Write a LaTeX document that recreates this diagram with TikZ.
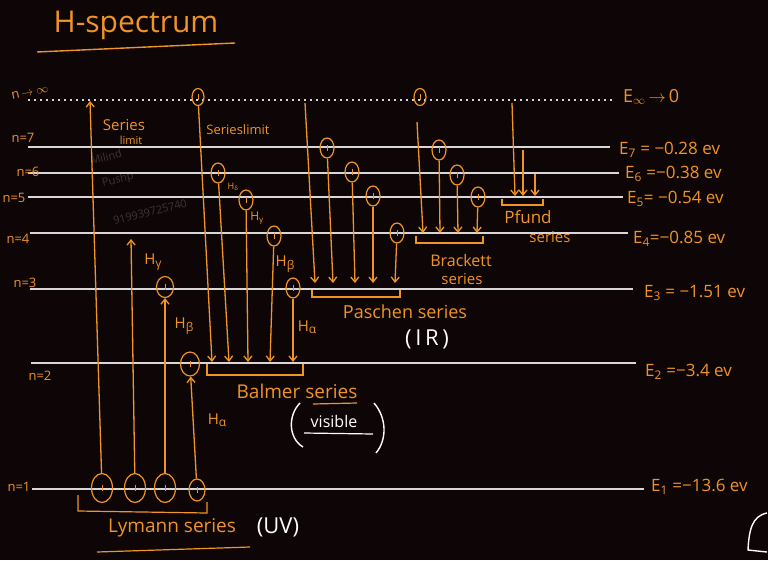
\documentclass[tikz,border=0pt]{standalone}
\usepackage{fontspec}
\setmainfont{Open Sans}
\usetikzlibrary{arrows.meta,shapes.geometric}
\definecolor{bg}{RGB}{14,5,6}
\definecolor{orng}{RGB}{240,148,38}
\definecolor{lvl}{RGB}{215,215,215}
\definecolor{wm}{RGB}{62,54,54}
\newcommand\sbs[1]{\textsubscript{#1}}
\newcommand\fs[1]{\fontsize{#1}{#1}\selectfont}
\newcommand\hl[1]{H\raisebox{-2.5pt}{\fs{12}#1}}
\begin{document}
\begin{tikzpicture}[x=1pt,y=-1pt,
  level/.style={draw=lvl,line width=1.8pt},
  inflevel/.style={draw=lvl,line width=1.6pt,dash pattern=on 2pt off 4pt},
  tr/.style={draw=orng,line width=1.3pt,-{Straight Barb[length=5pt,width=8pt]}},
  el/.style={draw=orng,line width=1.2pt,ellipse,inner sep=0pt,minimum width=14pt,minimum height=20pt,
    path picture={\draw[orng,line width=1pt] ([yshift=-3pt]path picture bounding box.center) -- ([yshift=3pt]path picture bounding box.center);}},
  bigel/.style={el,minimum width=21pt,minimum height=29pt},
  smel/.style={el,minimum width=12pt,minimum height=17pt},
  lab/.style={text=orng,inner sep=0pt,font=\fs{13}},
  hlab/.style={text=orng,inner sep=0pt,font=\fs{15}},
  elab/.style={text=orng,inner sep=0pt,font=\fs{17},anchor=west},
  wlab/.style={text=white,inner sep=0pt},
  brk/.style={draw=orng,line width=1.2pt},
  wmark/.style={text=wm,inner sep=0pt,font=\fs{11}}]
\fill[bg] (0,0) rectangle (768,560);
\useasboundingbox (0,0) rectangle (768,560);

% watermark
\node[wmark,rotate=14] (wm1) at (106,157) {Milind};
\node[wmark,rotate=14] (wm2) at (118,180) {Pushp};
\node[wmark,rotate=14] (wm3) at (150,212) {919939725740};

% title
\node[lab,font=\fs{30}] (title) at (136,25) {H-spectrum};
\draw[brk,line width=1.4pt] (37,52) -- (235,43);

% levels
\coordinate (Lia) at (28,100); \coordinate (Lib) at (613,100);
\coordinate (L7a) at (28,147); \coordinate (L7b) at (610,147);
\coordinate (L6a) at (28,173); \coordinate (L6b) at (619,173);
\coordinate (L5a) at (28,197); \coordinate (L5b) at (623,197);
\coordinate (L4a) at (30,233); \coordinate (L4b) at (628,233);
\coordinate (L3a) at (30,289); \coordinate (L3b) at (633,289);
\coordinate (L2a) at (31,363); \coordinate (L2b) at (636,363);
\coordinate (L1a) at (32,489); \coordinate (L1b) at (644,489);
\draw[inflevel] (Lia) -- (Lib);
\foreach \n in {7,6,5,4,3,2,1} \draw[level] (L\n a) -- (L\n b);

% level names
\node[lab,rotate=12] (ni) at (30,92) {n$\,\to\infty$};
\node[lab] (n7) at (23,138) {n=7};
\node[lab] (n6) at (28,172) {n=6};
\node[lab] (n5) at (14,198) {n=5};
\node[lab] (n4) at (18,239) {n=4};
\node[lab] (n3) at (25,283) {n=3};
\node[lab] (n2) at (40,376) {n=2};
\node[lab] (n1) at (19,487) {n=1};

% energies
\node[elab,font=\fs{18}] (Ei) at (623,97) {E\sbs{$\infty$}$\,\to\,$0};
\node[elab] (E7) at (619,150) {E\sbs{7} = −0.28 ev};
\node[elab] (E6) at (625,174) {E\sbs{6} =−0.38 ev};
\node[elab] (E5) at (627,199) {E\sbs{5}= −0.54 ev};
\node[elab] (E4) at (633,239) {E\sbs{4}=−0.85 ev};
\node[elab] (E3) at (644,293) {E\sbs{3} = −1.51 ev};
\node[elab] (E2) at (645,372) {E\sbs{2} =−3.4 ev};
\node[elab] (E1) at (651,487) {E\sbs{1} =−13.6 ev};

% ---------- Lyman ----------
\node[bigel] (ly1) at (102,488) {};
\node[bigel] (ly2) at (135,488) {};
\node[bigel] (ly3) at (165,488) {};
\node[el,minimum width=16pt,minimum height=22pt] (ly4) at (197,490) {};
\coordinate (lyt1) at (90,101);
\coordinate (lyt2) at (131,239);
\node[el,minimum width=17pt,minimum height=21pt] (lc3) at (165,287) {};
\node[el,minimum width=19pt,minimum height=24pt] (lc2) at (190,364) {};
\draw[tr] (ly1) -- (lyt1);
\draw[tr] (ly2) -- (lyt2);
\draw[tr] (ly3) -- (lc3);
\draw[tr] (ly4) -- (lc2);
\node[lab,font=\fs{15}] (sl1) at (124,125) {Series};
\node[lab,font=\fs{11}] (sl2) at (131,140) {limit};
\node[hlab] (lyg) at (153,262) {\hl{γ}};
\node[hlab] (lyb) at (184,326) {\hl{β}};
\node[hlab] (lya) at (217,420) {\hl{α}};
\draw[brk] (78,495) -- (78,511) -- (207,513) -- (207,502);
\node[lab,font=\fs{19}] (lyn) at (172,528) {Lymann series};
\draw[brk] (97,552) -- (250,547);
\node[wlab,font=\fs{22}] (uv) at (278,527) {(UV)};

% ---------- Balmer ----------
\node[smel] (bi) at (198,97) {};
\node[lab,font=\fs{13}] (bsl) at (238,130) {Serieslimit};
\coordinate (bt1) at (212,362);
\node[el] (b6) at (218,173) {};
\coordinate (bt2) at (229,362);
\node[el] (b5) at (246,200) {};
\coordinate (bt3) at (248,362);
\node[el] (b4) at (274,236) {};
\coordinate (bt4) at (270,362);
\node[el] (b3) at (293,288) {};
\coordinate (bt5) at (293,362);
\draw[tr] (bi) -- (bt1);
\draw[tr] (b6) -- (bt2);
\draw[tr] (b5) -- (bt3);
\draw[tr] (b4) -- (bt4);
\draw[tr] (b3) -- (bt5);
\node[lab,font=\fs{9}] (bd) at (233,187) {H\sbs{δ}};
\node[hlab,font=\fs{12}] (bg) at (257,218) {H\sbs{γ}};
\node[hlab] (bb) at (285,264) {\hl{β}};
\node[hlab] (ba) at (307,327) {\hl{α}};
\draw[brk] (207,364) -- (207,375) -- (303,375) -- (303,364);
\node[lab,font=\fs{19}] (bn) at (297,391) {Balmer series};
\draw[brk] (313,404) -- (357,403);
\node[wlab,font=\fs{16}] (vis) at (334,421) {visible};
\draw[draw=white,line width=1.2pt] (304,433) -- (373,434);
\draw[draw=white,line width=1.4pt] (300,403) .. controls (288,415) and (288,438) .. (303,447);
\draw[draw=white,line width=1.4pt] (374,403) .. controls (387,418) and (387,440) .. (376,453);

% ---------- Paschen ----------
\coordinate (pi) at (305,103);
\coordinate (pt1) at (315,283);
\node[el] (p7) at (327,148) {};
\coordinate (pt2) at (333,283);
\node[el] (p6) at (352,172) {};
\coordinate (pt3) at (355,283);
\node[el] (p5) at (373,196) {};
\coordinate (pt4) at (373,283);
\node[el] (p4) at (397,233) {};
\coordinate (pt5) at (395,283);
\draw[tr] (pi) -- (pt1);
\draw[tr] (p7) -- (pt2);
\draw[tr] (p6) -- (pt3);
\draw[tr] (p5) -- (pt4);
\draw[tr] (p4) -- (pt5);
\draw[brk] (312,290) -- (312,297) -- (400,297) -- (400,290);
\node[lab,font=\fs{18}] (pn) at (405,312) {Paschen series};
\node[wlab,font=\fs{22}] (ir) at (427,339) {(\,I\,R\,)};

% ---------- Brackett ----------
\node[smel] (ri) at (420,97) {};
\coordinate (ris) at (417,122);
\coordinate (rt1) at (423,233);
\node[el] (r7) at (439,150) {};
\coordinate (rt2) at (440,233);
\node[el] (r6) at (457,175) {};
\coordinate (rt3) at (458,233);
\node[el] (r5) at (478,197) {};
\coordinate (rt4) at (477,233);
\draw[tr] (ris) -- (rt1);
\draw[tr] (r7) -- (rt2);
\draw[tr] (r6) -- (rt3);
\draw[tr] (r5) -- (rt4);
\draw[brk] (416,236) -- (416,243) -- (483,243) -- (483,236);
\node[lab,font=\fs{16}] (rn1) at (461,260) {Brackett};
\node[lab,font=\fs{15}] (rn2) at (462,279) {series};

% ---------- Pfund ----------
\coordinate (fi) at (512,103);
\coordinate (ft1) at (515,196);
\coordinate (f7) at (523,150);
\coordinate (ft2) at (523,196);
\coordinate (f6) at (535,174);
\coordinate (ft3) at (535,196);
\draw[tr] (fi) -- (ft1);
\draw[tr] (f7) -- (ft2);
\draw[tr] (f6) -- (ft3);
\draw[brk] (502,199) -- (502,205) -- (543,205) -- (543,199);
\node[lab,font=\fs{17}] (fn1) at (528,217) {Pfund};
\node[lab,font=\fs{15}] (fn2) at (550,237) {series};

% fragment bottom right
\draw[draw=white,line width=1.4pt] (767,513) .. controls (752,516) and (749,530) .. (748,550) -- (767,552);
\end{tikzpicture}
\end{document}
